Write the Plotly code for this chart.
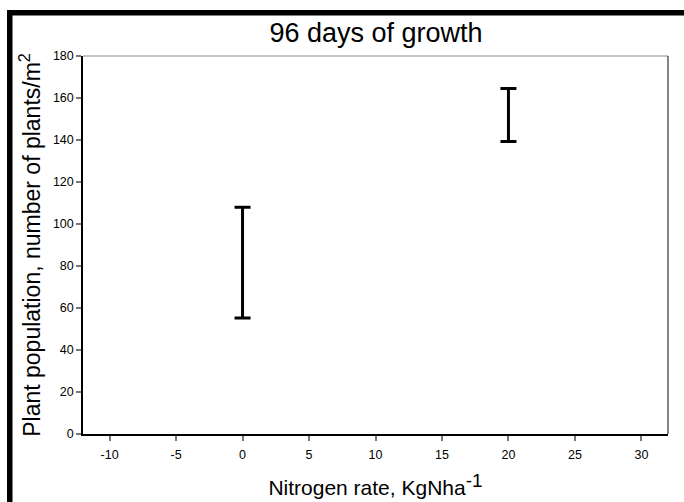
import plotly.graph_objects as go

nitrogen = [0, 20]
population = [81.6, 151.9]
err = [26.4, 12.6]
x_ticks = [-10, -5, 0, 5, 10, 15, 20, 25, 30]
x_labels = ["-10", "-5", "0", "5", "10", "15", "20", "25", "30"]
y_ticks = [0, 20, 40, 60, 80, 100, 120, 140, 160, 180]

W, H = 684, 502
L, R, T, B = 83, 668, 56, 434
pw, ph = R - L, B - T

def px(x):
    return (x - L) / pw

def py(y):
    return (B - y) / ph

fig = go.Figure()
fig.add_trace(go.Scatter(
    x=nitrogen, y=population, mode="markers",
    marker=dict(size=2, color="black"),
    error_y=dict(type="data", array=err, visible=True, color="black",
                 thickness=3, width=8),
    showlegend=False,
))

font = "Liberation Sans, Arial, sans-serif"
fig.update_layout(
    width=W, height=H,
    margin=dict(l=L, r=W - R, t=T, b=H - B, autoexpand=False),
    paper_bgcolor="white", plot_bgcolor="white",
    title=dict(text="96 days of growth", x=376 / W, xanchor="center",
               y=1 - 33 / H, yanchor="middle",
               font=dict(family=font, size=27, color="black")),
    xaxis=dict(range=[-12, 32], tickvals=x_ticks, ticktext=x_labels, ticks="outside", ticklen=5,
               tickcolor="#777777", tickwidth=1.5, showgrid=False, zeroline=False,
               showline=True, linecolor="black", linewidth=1.5, automargin=False,
               ticklabelstandoff=3,
               tickfont=dict(family=font, size=12.5, color="black"),
               title=dict(text="Nitrogen rate, KgNha<sup><span style='font-size:19px'>-1</span></sup>",
                          standoff=20,
                          font=dict(family=font, size=21, color="black"))),
    yaxis=dict(range=[0, 180], tickvals=y_ticks, ticks="outside", ticklen=5,
               tickcolor="#777777", tickwidth=1.5, showgrid=False, zeroline=False,
               showline=True, linecolor="black", linewidth=1.5, automargin=False,
               tickfont=dict(family=font, size=12.5, color="black"),
               title=dict(text="Plant population, number of plants/m<sup>2</sup>", standoff=6,
                          font=dict(family=font, size=23, color="black"))),
    shapes=[
        dict(type="line", xref="paper", yref="paper", x0=0, x1=1, y0=1, y1=1,
             line=dict(color="#888888", width=1)),
        dict(type="line", xref="paper", yref="paper", x0=1, x1=1, y0=0, y1=1,
             line=dict(color="#333333", width=1.2)),
        dict(type="rect", xref="paper", yref="paper", x0=px(7), x1=px(12.5),
             y0=py(H + 5), y1=py(10), fillcolor="black", line=dict(width=0), layer="above"),
        dict(type="rect", xref="paper", yref="paper", x0=px(7), x1=px(W + 5),
             y0=py(15.5), y1=py(10), fillcolor="black", line=dict(width=0), layer="above"),
    ],
)

fig.write_html("out.html")
